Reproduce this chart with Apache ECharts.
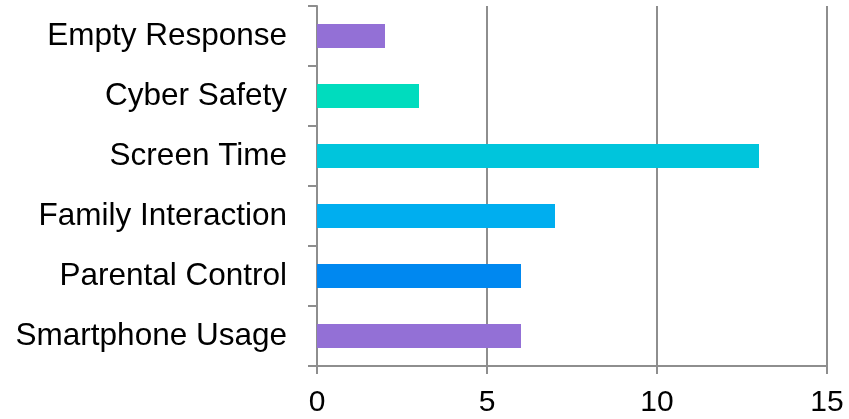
<!DOCTYPE html>
<html>
<head>
<meta charset="utf-8">
<script src="https://cdn.jsdelivr.net/npm/echarts@6/dist/echarts.min.js"></script>
<style>
  html, body { margin: 0; padding: 0; background: #ffffff; }
  #chart { width: 849px; height: 419px; }
</style>
</head>
<body>
<div id="chart"></div>
<script>
// Response topics, listed bottom to top
const categories = ['Smartphone Usage', 'Parental Control', 'Family Interaction', 'Screen Time', 'Cyber Safety', 'Empty Response'];
const counts = [6, 6, 7, 13, 3, 2];
const xTicks = [0, 5, 10, 15];

// Bar fill per topic
const palette = ['#9370D6', '#0088F0', '#00AEEF', '#00C5DC', '#00DCBE', '#9370D6'];

const axisGray = '#8E8E8E';
const chart = echarts.init(document.getElementById('chart'), null, { renderer: 'canvas' });

chart.setOption({
  animation: false,
  grid: { left: 317, right: 22, top: 6, bottom: 53, containLabel: false },
  xAxis: {
    type: 'value',
    min: xTicks[0],
    max: xTicks[xTicks.length - 1],
    interval: xTicks[1] - xTicks[0],
    axisLine: { show: true, lineStyle: { color: axisGray, width: 2 } },
    axisTick: { show: true, length: 8, lineStyle: { color: axisGray, width: 2 } },
    splitLine: { show: true, lineStyle: { color: axisGray, width: 2 } },
    axisLabel: { color: '#000', fontFamily: 'Liberation Sans, Arial, sans-serif', fontSize: 30, margin: 22 }
  },
  yAxis: {
    type: 'category',
    data: categories,
    axisLine: { show: true, lineStyle: { color: axisGray, width: 2 } },
    axisTick: { show: true, length: 9, lineStyle: { color: axisGray, width: 2 } },
    splitLine: { show: false },
    axisLabel: { color: '#000', fontFamily: 'Liberation Sans, Arial, sans-serif', fontSize: 31.5, margin: 30 }
  },
  series: [{
    type: 'bar',
    barWidth: '40%',
    data: counts.map((v, i) => ({ value: v, itemStyle: { color: palette[i] } }))
  }]
});
</script>
</body>
</html>
